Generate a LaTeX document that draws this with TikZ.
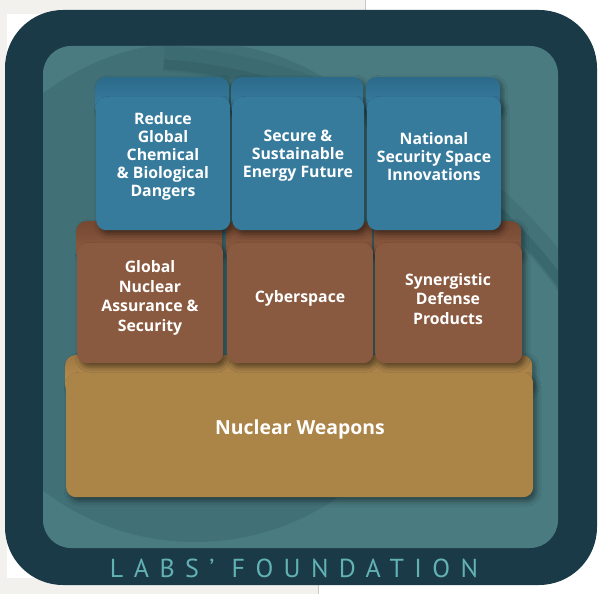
\documentclass[tikz,border=0pt]{standalone}
\usepackage{fontspec}
\setsansfont{Open Sans}
\newfontfamily\footfont{PT Sans}
\usetikzlibrary{shadows.blur}
\definecolor{bgGrey}{HTML}{F2F1EE}
\definecolor{lineGrey}{HTML}{C8C8C8}
\definecolor{frameDark}{HTML}{1B3A47}
\definecolor{panelTeal}{HTML}{4A7B80}
\definecolor{globeIn}{HTML}{417177}
\definecolor{globeRim}{HTML}{2F5C63}
\definecolor{blueFace}{HTML}{377B9C}
\definecolor{blueTop}{HTML}{2C6A8A}
\definecolor{blueLip}{HTML}{3D84A8}
\definecolor{brownFace}{HTML}{8A5A40}
\definecolor{brownTop}{HTML}{754832}
\definecolor{brownLip}{HTML}{925F44}
\definecolor{goldFace}{HTML}{AB8447}
\definecolor{goldTop}{HTML}{9E7842}
\definecolor{goldLip}{HTML}{C39857}
\definecolor{footTeal}{HTML}{62B2B4}
\pgfdeclareradialshading{globe}{\pgfpoint{0bp}{0bp}}{color(0bp)=(globeIn); color(38bp)=(globeIn); color(47bp)=(globeRim); color(50bp)=(globeRim); color(100bp)=(globeRim)}
\tikzset{
  face/.style={rectangle, rounded corners=10pt, inner sep=0pt, anchor=north west,
    blur shadow={shadow xshift=3pt, shadow yshift=-4pt, shadow blur radius=5pt, shadow opacity=45}},
  slab/.style={rectangle, rounded corners=10pt, inner sep=0pt, anchor=north west,
    blur shadow={shadow xshift=3pt, shadow yshift=-2pt, shadow blur radius=4pt, shadow opacity=35}},
  lbl/.style={text=white, align=center, inner sep=0pt,
    font=\sffamily\bfseries\fontsize{15.8}{18}\selectfont},
}
\begin{document}
\begin{tikzpicture}[x=1pt,y=-1pt]
\useasboundingbox (0,0) rectangle (600,594);
\fill[white] (0,0) rectangle (600,594);
\fill[bgGrey] (0,0) rectangle (365,14);
\fill[bgGrey] (0,0) rectangle (7,594);
\fill[bgGrey] (0,578) rectangle (318,594);
\draw[lineGrey, line width=0.8pt] (365,0) -- (365,14);
\draw[lineGrey, line width=0.8pt] (318,578) -- (318,594);
% frame and panel
\fill[frameDark, rounded corners=58pt] (5,10) rectangle (597,585);
\fill[panelTeal, rounded corners=28pt] (43,46) rectangle (558,548);
\begin{scope}
  \clip[rounded corners=28pt] (43,46) rectangle (558,548);
  \shade[shading=globe] (195,292) circle (250);
  \draw[globeRim, line width=26pt, opacity=0.25] (126,603) ++(-28:546) arc[start angle=-28, end angle=-86, radius=546];
  \draw[globeRim, line width=10pt, opacity=0.45] (126,603) ++(-28:540) arc[start angle=-28, end angle=-86, radius=540];
\end{scope}
% bottom tier
\node[slab, top color=goldTop, bottom color=goldLip, minimum width=467pt, minimum height=40pt] (gs) at (65,355) {};
\node[face, fill=goldFace, minimum width=467pt, minimum height=124pt] (gf) at (66,373) {};
% middle tier slabs
\node[slab, top color=brownTop, bottom color=brownLip, minimum width=146pt, minimum height=40pt] (m1s) at (76,221) {};
\node[slab, top color=brownTop, bottom color=brownLip, minimum width=146pt, minimum height=40pt] (m2s) at (226,221) {};
\node[slab, top color=brownTop, bottom color=brownLip, minimum width=147pt, minimum height=40pt] (m3s) at (374,221) {};
\node[face, fill=brownFace, minimum width=146pt, minimum height=120pt] (m1) at (77,243) {};
\node[face, fill=brownFace, minimum width=146pt, minimum height=120pt] (m2) at (227,243) {};
\node[face, fill=brownFace, minimum width=147pt, minimum height=120pt] (m3) at (375,243) {};
% top tier
\node[slab, top color=blueTop, bottom color=blueLip, minimum width=134pt, minimum height=40pt] (b1s) at (95,77) {};
\node[slab, top color=blueTop, bottom color=blueLip, minimum width=132pt, minimum height=40pt] (b2s) at (231,77) {};
\node[slab, top color=blueTop, bottom color=blueLip, minimum width=134pt, minimum height=40pt] (b3s) at (366,77) {};
\node[face, fill=blueFace, minimum width=134pt, minimum height=133pt] (b1) at (96,97) {};
\node[face, fill=blueFace, minimum width=132pt, minimum height=133pt] (b2) at (232,97) {};
\node[face, fill=blueFace, minimum width=134pt, minimum height=133pt] (b3) at (367,97) {};
% labels
\node[lbl] (t1) at (163,156) {Reduce\\Global\\Chemical\\\& Biological\\Dangers};
\node[lbl] (t2) at (298,156) {Secure \&\\Sustainable\\Energy Future};
\node[lbl] (t3) at (434,157) {National\\Security Space\\Innovations};
\node[lbl, font=\sffamily\bfseries\fontsize{15.8}{19.5}\selectfont] (t4) at (150,298) {Global\\Nuclear\\Assurance \&\\Security};
\node[lbl] (t5) at (300,298) {Cyberspace};
\node[lbl, font=\sffamily\bfseries\fontsize{15.8}{19.5}\selectfont] (t6) at (448,299) {Synergistic\\Defense\\Products};
\node[lbl, font=\sffamily\bfseries\fontsize{19.4}{22}\selectfont] (t7) at (300,429) {Nuclear Weapons};
\node[text=footTeal, inner sep=0pt, font=\footfont\fontsize{26}{28}\selectfont\addfontfeature{LetterSpace=40}] (t8) at (294,568) {LABS’ FOUNDATION};
\end{tikzpicture}
\end{document}
